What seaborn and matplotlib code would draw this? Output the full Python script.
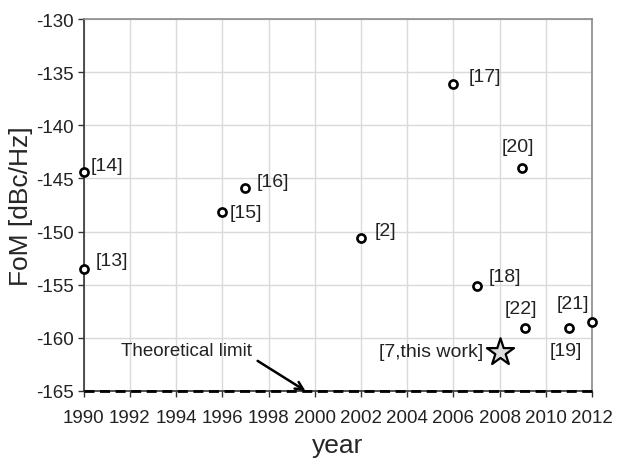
import matplotlib
matplotlib.use("Agg")
import matplotlib.pyplot as plt
import seaborn as sns
import pandas as pd

# Published oscillator figure-of-merit values by year
refs = ["[14]", "[13]", "[15]", "[16]", "[2]", "[17]", "[18]", "[20]", "[22]", "[19]", "[21]"]
years = [1990, 1990, 1996, 1997, 2002, 2006, 2007, 2008.95, 2009.1, 2011, 2012]
fom = [-144.4, -153.5, -148.2, -145.9, -150.6, -136.1, -155.1, -144.0, -159.1, -159.1, -158.5]

# This work
this_label = "[7,this work]"
this_year = [2008]
this_fom = [-161.3]

# Theoretical limit
limit_fom = -165.0
limit_text = "Theoretical limit"

x_ticks = list(range(1990, 2013, 2))
y_ticks = list(range(-130, -166, -5))

sns.set_theme(style="whitegrid")
plt.rcParams["font.family"] = ["Liberation Sans", "DejaVu Sans"]

fig = plt.figure(figsize=(6.2, 4.6), dpi=100)
ax = fig.add_axes([0.135, 0.148, 0.82, 0.8085])

df = pd.DataFrame({"year": years, "fom": fom, "ref": refs})
df_this = pd.DataFrame({"year": this_year, "fom": this_fom})

ax.axhline(limit_fom, color="black", lw=2.0, ls=(0, (3.6, 2.0)), zorder=3, clip_on=False)

sns.scatterplot(data=df, x="year", y="fom", ax=ax, marker="o", s=34,
                facecolor="white", edgecolor="black", linewidth=1.9,
                zorder=5, clip_on=False, legend=False)
sns.scatterplot(data=df_this, x="year", y="fom", ax=ax, marker="*", s=420,
                facecolor="#dcdcdc", edgecolor="black", linewidth=1.6,
                zorder=5, clip_on=False, legend=False)

# label placement: (dx, dy) in points, horizontal alignment
label_pos = {
    "[14]": (5, 4.5, "left"),
    "[13]": (8.5, 6, "left"),
    "[15]": (5, 0, "left"),
    "[16]": (8, 5, "left"),
    "[2]": (10, 5, "left"),
    "[17]": (11, 5, "left"),
    "[18]": (8.5, 7, "left"),
    "[20]": (-3, 15, "center"),
    "[22]": (-3, 14.5, "center"),
    "[19]": (-2, -16, "center"),
    "[21]": (-13.5, 13, "center"),
}
for r, xv, yv in zip(refs, years, fom):
    dx, dy, ha = label_pos[r]
    ax.annotate(r, (xv, yv), xytext=(dx, dy), textcoords="offset points",
                ha=ha, va="center", fontsize=14, color="#222222")

ax.annotate(this_label, (this_year[0], this_fom[0]), xytext=(-11.5, 0),
            textcoords="offset points", ha="right", va="center",
            fontsize=14, color="#222222")

ax.annotate(limit_text, xy=(1999.6, limit_fom), xytext=(1994.45, -161.2),
            ha="center", va="center", fontsize=13.5, color="#222222",
            arrowprops=dict(arrowstyle="->", color="black", lw=1.8,
                            mutation_scale=14, shrinkA=2, shrinkB=0,
                            relpos=(1.0, 0.1)))

ax.set_xlim(1990, 2012)
ax.set_ylim(-165, -130)
ax.set_xticks(x_ticks)
ax.set_xticklabels([str(v) for v in x_ticks], fontsize=13.5)
ax.set_yticks(y_ticks)
ax.set_yticklabels([str(v).replace("\u2212", "-") for v in y_ticks], fontsize=13.5)
ax.set_xlabel("year", fontsize=19, labelpad=5)
ax.set_ylabel("FoM [dBc/Hz]", fontsize=19, labelpad=2)

ax.grid(True, color="#dadada", lw=1.0)
ax.tick_params(axis="both", direction="out", length=4, width=1,
               color="#333333", labelcolor="#222222")
ax.tick_params(axis="x", bottom=True, pad=9)
ax.tick_params(axis="y", left=True, pad=3)
for side in ["left", "bottom"]:
    ax.spines[side].set_color("#333333")
    ax.spines[side].set_linewidth(1.2)
for side in ["top", "right"]:
    ax.spines[side].set_color("#8a8a8a")
    ax.spines[side].set_linewidth(1.2)
ax.set_facecolor("white")

fig.savefig("out.png", dpi=100, facecolor="white")
